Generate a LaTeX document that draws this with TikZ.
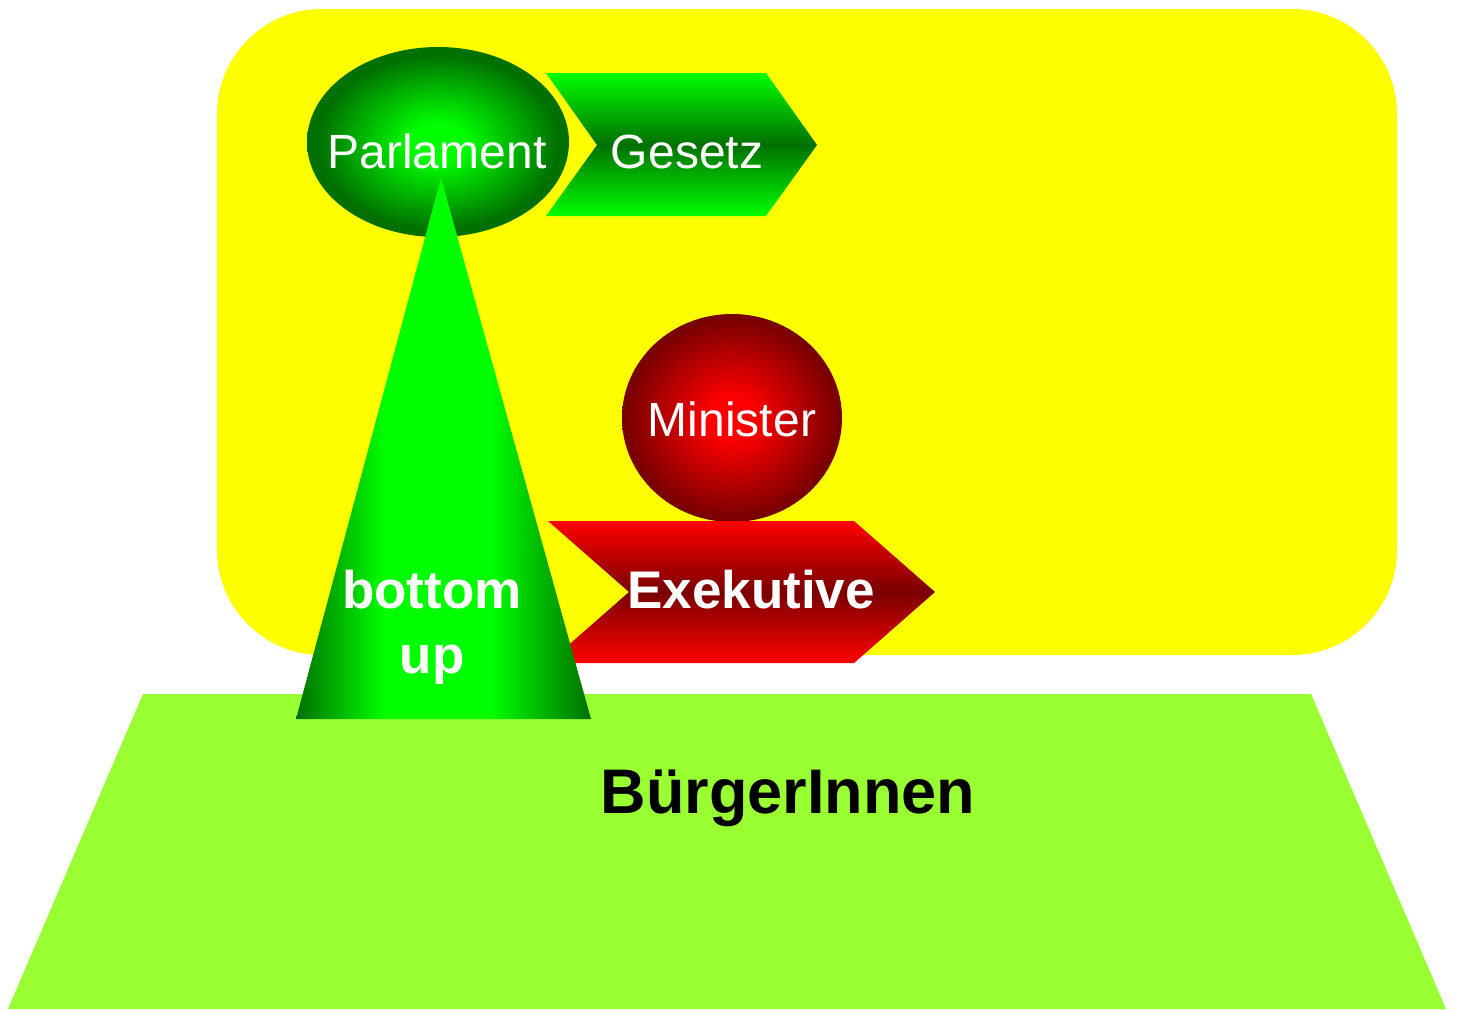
\documentclass[tikz,border=0pt]{standalone}
\usepackage{fontspec}
\setmainfont{Liberation Sans}
\definecolor{gbright}{RGB}{0,255,0}
\definecolor{gdark}{RGB}{0,112,0}
\definecolor{rbright}{RGB}{255,0,0}
\definecolor{rdark}{RGB}{122,0,0}
\definecolor{limeg}{RGB}{153,255,51}
\definecolor{yel}{RGB}{255,255,0}
\pgfdeclareradialshading{parlshade}{\pgfpoint{0bp}{0bp}}{color(0bp)=(gbright); color(5bp)=(gbright); color(23bp)=(gdark); color(50bp)=(gdark)}
\pgfdeclareradialshading{minshade}{\pgfpoint{0bp}{0bp}}{color(0bp)=(rbright); color(5bp)=(rbright); color(24bp)=(rdark); color(50bp)=(rdark)}
\pgfdeclarehorizontalshading{trishade}{100bp}{color(0bp)=(gdark); color(25bp)=(gdark); color(40bp)=(gbright); color(58bp)=(gbright); color(75bp)=(gdark); color(100bp)=(gdark)}
\tikzset{
  whitetxt/.style={text=white, inner sep=0pt, font=\fontsize{48}{58}\selectfont},
  boldtxt/.style={text=white, inner sep=0pt, font=\fontsize{53}{65}\selectfont\bfseries},
}
\begin{document}
\begin{tikzpicture}[x=1pt,y=-1pt]
\useasboundingbox (0,0) rectangle (1458,1009);
% yellow area
\fill[yel, rounded corners=105pt] (217,9) rectangle (1397,655);
% citizens base
\fill[limeg] (143,694) -- (1311,694) -- (1446,1009) -- (8,1009) -- cycle;
% Parlament ellipse
\path[shading=parlshade] (438,142) ellipse [x radius=131pt, y radius=95pt];
% Gesetz chevron
\path[top color=gbright, bottom color=gbright, middle color=gdark]
  (546,73) -- (766,73) -- (817,145) -- (766,216) -- (546,216) -- (597,145) -- cycle;
% Minister circle
\path[shading=minshade] (732,418) ellipse [x radius=110pt, y radius=104pt];
% Exekutive chevron
\path[top color=rbright, bottom color=rbright, middle color=rdark]
  (548,521) -- (854,521) -- (935,592) -- (854,663) -- (548,663) -- (629,592) -- cycle;
% bottom-up triangle
\path[shading=trishade]
  (441,178) -- (591,719) -- (296,719) -- cycle;
% texts
\node[whitetxt, anchor=base] (parl) at (437,168) {Parlament};
\node[whitetxt, anchor=base] (ges) at (687,168) {Gesetz};
\node[whitetxt, anchor=base] (min) at (732,436) {Minister};
\node[boldtxt, anchor=base] (exe) at (751,608) {Exekutive};
\node[boldtxt, anchor=base] (bu1) at (432,608) {bottom};
\node[boldtxt, anchor=base] (bu2) at (432,673) {up};
\node[inner sep=0pt, anchor=base, font=\fontsize{63}{75}\selectfont\bfseries] (bur) at (788,813) {BürgerInnen};
\end{tikzpicture}
\end{document}
